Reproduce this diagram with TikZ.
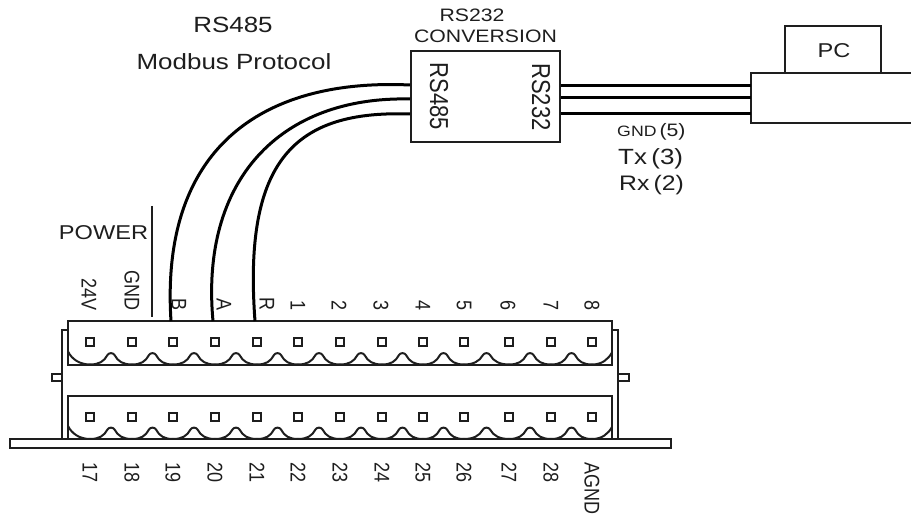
\documentclass[tikz,border=0pt]{standalone}
\usepackage{fontspec}
\setmainfont{Liberation Sans}
\usepackage{tikz}
\usetikzlibrary{positioning}

\definecolor{inkgray}{HTML}{1E1E1E}
\tikzset{
	part/.style={draw=inkgray,line width=2pt,inner sep=0pt,fill=white},
	wire/.style={draw=black,line width=3pt},
	pin/.style={draw=inkgray,line width=1.8pt,minimum size=8pt,inner sep=0pt},
	lbl/.style={text=inkgray,inner sep=0pt,xscale=1.18,transform shape},
}
\newcommand{\fsize}[1]{\fontsize{#1}{#1}\selectfont}
% one row of the plug: the wavy lower edge, #1 is the y of its troughs
\newcommand{\scallops}[1]{
	\draw[part,fill=none] (68,#1-13) .. controls (72,#1-5) and (80,#1) .. (90,#1);
	\draw[part,fill=none] (592,#1) .. controls (602,#1) and (608,#1-5) .. (612,#1-12);
	\foreach \x/\y in {90/132,132/173,173/215,215/257,257/298,298/340,340/382,382/423,423/464,464/509,509/551,551/592}{
		\draw[part,fill=none,line join=round] (\x,#1) .. controls (\x+9,#1) and ({(\x+\y)/2-7},#1-3) .. ({(\x+\y)/2-3.5},#1-9.5)
			.. controls ({(\x+\y)/2-2},#1-12) and ({(\x+\y)/2+2},#1-12) .. ({(\x+\y)/2+3.5},#1-9.5)
			.. controls ({(\x+\y)/2+7},#1-3) and (\y-9,#1) .. (\y,#1);
	}
}

\begin{document}
\begin{tikzpicture}[x=1pt,y=-1pt]
	\useasboundingbox (0,0) rectangle (911,518);

	% titles
	\node[lbl,font=\fsize{22}] (title) at (233,25) {RS485};
	\node[lbl,font=\fsize{22}] (proto) at (234,62) {Modbus Protocol};
	\node[lbl,font=\fsize{18}] (convtitle) at (472,15) {RS232};
	\node[lbl,font=\fsize{18}] (convname) at (485.5,36) {CONVERSION};

	% converter and PC
	\node[part,minimum width=149pt,minimum height=91pt] (conv) at (485.5,96.5) {};
	\node[lbl,font=\fsize{22},rotate=-90] (convleft) at (439,96.5) {RS485};
	\node[lbl,font=\fsize{22},rotate=-90] (convright) at (541,97) {RS232};
	\node[part,minimum width=96pt,minimum height=47pt] (pc) at (833,49.5) {};
	\node[lbl,font=\fsize{20}] (pcname) at (834,51) {PC};
	\draw[part,fill=none] (911,73) -- (751,73) -- (751,123) -- (911,123);
	\coordinate (pc1) at (751,86);
	\coordinate (pc2) at (751,98);
	\coordinate (pc3) at (751,114);
	\path[wire] (conv.east |- pc1) -- (pc1);
	\path[wire] (conv.east |- pc2) -- (pc2);
	\path[wire] (conv.east |- pc3) -- (pc3);
	\node[lbl,font=\fsize{15},anchor=west] (gnd5) at (617,132) {GND\,{\fsize{18}(5)}};
	\node[lbl,font=\fsize{22},anchor=west] (tx3) at (618,159) {Tx\,(3)};
	\node[lbl,font=\fsize{21},anchor=west] (rx2) at (619,185) {Rx\,(2)};

	% plug body
	\draw[part] (68,330) -- (62,330) -- (62,439);
	\draw[part] (612,330) -- (618,330) -- (618,439);
	\draw[part] (52,374) rectangle (62,381);
	\draw[part] (618,374) rectangle (629,381);
	\node[part,minimum width=544pt,minimum height=44pt] (upper) at (340,343) {};
	\node[part,minimum width=544pt,minimum height=43pt] (lower) at (340,417.5) {};
	\node[part,minimum width=661pt,minimum height=9pt] (plate) at (340.5,443.5) {};
	\scallops{364.5}
	\scallops{439}

	% pins and terminal labels
	\foreach \x/\tx/\lab [count=\i] in {90/89/24V,132/132/GND,173/179/B,215/224/A,257/267/R,298/298/1,340/339/2,382/381/3,423/423/4,464/464/5,509/508/6,551/551/7,592/592/8}{
		\node[pin] (p\i) at (\x,342) {};
		\node[lbl,font=\fsize{18},rotate=-90,anchor=east] (t\i) at (\tx,311) {\lab};
	}
	\foreach \x/\lab [count=\i] in {90/17,132/18,173/19,215/20,257/21,298/22,340/23,382/24,423/25,464/26,509/27,551/28,592/AGND}{
		\node[pin] (q\i) at (\x,417) {};
		\node[lbl,font=\fsize{18},rotate=-90,anchor=west] (u\i) at (\x,462) {\lab};
	}

	\node[lbl,font=\fsize{20}] (power) at (103.5,233) {POWER};
	\draw[part] (152,206) -- (152,317);

	% RS485 wires
	\coordinate (wb) at (171,321);
	\coordinate (wa) at (213,321);
	\coordinate (wr) at (255,321);
	\draw[wire] (wb) .. controls (160,150) and (260,78) .. (conv.west |- 0,85);
	\draw[wire] (wa) .. controls (200,180) and (280,96) .. (conv.west |- 0,99);
	\draw[wire] (wr) .. controls (243,160) and (295,110) .. (conv.west |- 0,114);
\end{tikzpicture}
\end{document}
